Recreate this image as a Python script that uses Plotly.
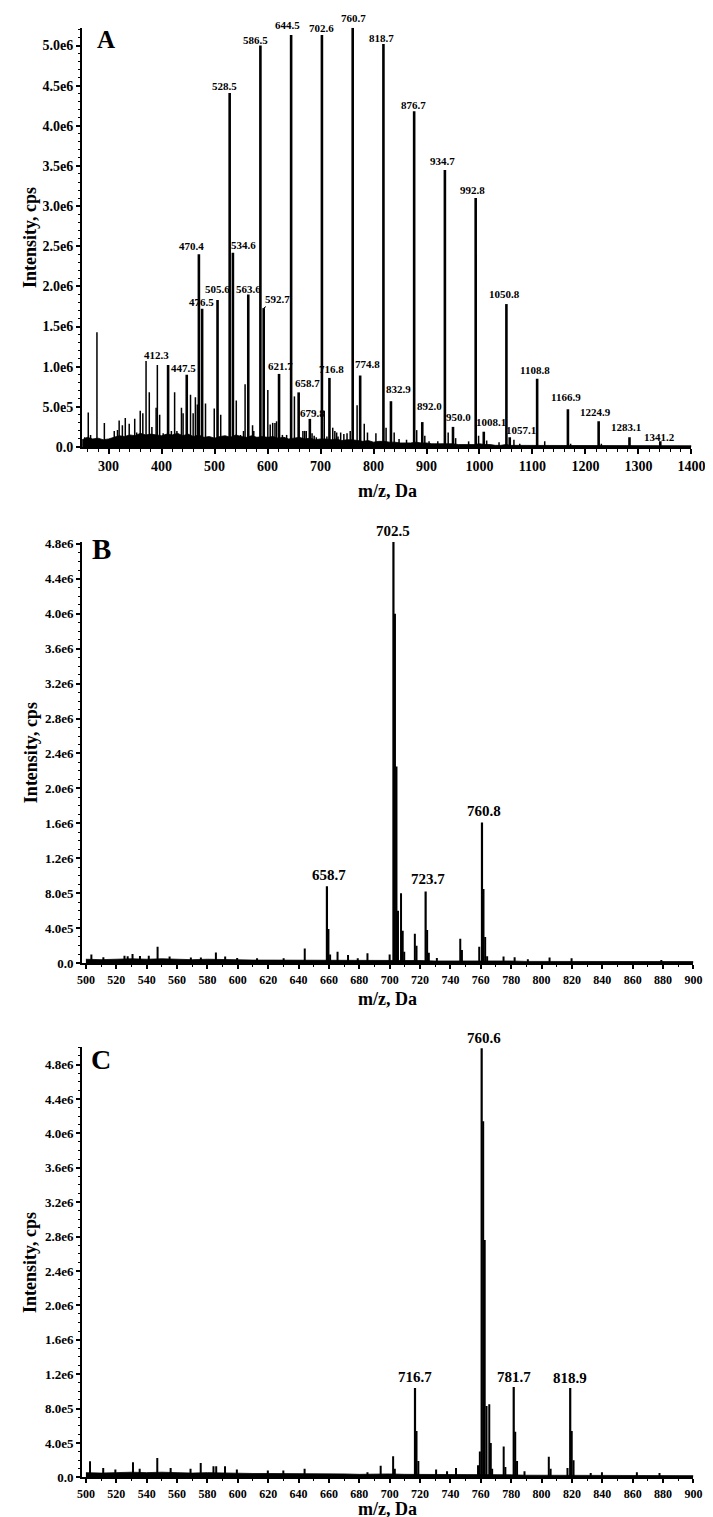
import plotly.graph_objects as go

# ---------------- DATA ----------------
# Panel A : labelled peaks (m/z, intensity in 1e6 cps)
A_major_mz = [412.3, 447.5, 470.4, 476.5, 505.6, 528.5, 534.6, 563.6, 586.5, 592.7,
              621.7, 644.5, 658.7, 679.8, 702.6, 716.8, 760.7, 774.8, 818.7, 832.9,
              876.7, 892.0, 934.7, 950.0, 992.8, 1008.1, 1050.8, 1057.1, 1108.8,
              1166.9, 1224.9, 1283.1, 1341.2]
A_major_int = [1.02, 0.90, 2.40, 1.72, 1.83, 4.41, 2.42, 1.90, 5.00, 1.73,
               0.91, 5.13, 0.68, 0.35, 5.13, 0.86, 5.22, 0.89, 5.02, 0.57,
               4.18, 0.31, 3.45, 0.25, 3.10, 0.19, 1.78, 0.12, 0.85,
               0.47, 0.32, 0.12, 0.07]
# Panel A : unlabelled peaks
A_minor_mz = [255, 261.6, 266, 270, 278, 292, 310.7, 316.8, 319.9, 326, 331.5, 338.9,
              349.3, 353, 359.7, 364.6, 370.7, 376.8, 381.7, 389.7, 392, 396.4, 403,
              418.5, 424.6, 428.9, 437.5, 440.6, 454.6, 459.6, 463.8, 467.5, 482.9,
              499.4, 511.6, 541, 549, 554.6, 557.6, 571.7, 574, 600.5, 605, 609.7,
              614, 617, 628, 632, 636, 650.7, 666.7, 670, 673, 684, 688, 692, 707,
              712, 723, 727, 730.4, 733, 738, 744, 750, 756, 769, 782.5, 788.6,
              804.5, 823.7, 839, 848.2, 862.3, 881.5, 896.8, 904.8, 921.3, 940.9,
              955, 979.5, 998.3, 1013.6, 1036.9, 1065, 1076, 1123.1, 1172, 1230]
A_minor_int = [0.12, 0.43, 0.15, 0.10, 1.43, 0.30, 0.20, 0.21, 0.33, 0.27, 0.36, 0.29,
               0.35, 0.18, 0.45, 0.42, 1.07, 0.68, 0.25, 0.49, 1.02, 0.40, 0.17,
               0.20, 0.68, 0.20, 0.49, 0.42, 0.65, 0.42, 0.62, 0.53, 0.54,
               0.48, 0.40, 0.58, 0.15, 0.20, 0.78, 0.27, 0.20, 0.71, 0.28, 0.30,
               0.30, 0.32, 0.15, 0.12, 0.15, 0.63, 0.20, 0.20, 0.20, 0.17, 0.14, 0.12, 0.45,
               0.13, 0.24, 0.20, 0.18, 0.13, 0.18, 0.16, 0.17, 0.20, 0.52, 0.29, 0.18,
               0.17, 0.24, 0.18, 0.10, 0.09, 0.21, 0.14, 0.07, 0.07, 0.18,
               0.11, 0.07, 0.14, 0.08, 0.06, 0.09, 0.04, 0.07, 0.04, 0.04]
# Panel A : baseline noise envelope every 10 Da (1e5 cps)
A_grass_mz = list(range(250, 1401, 10))
A_grass_int = [0.9, 1.2, 1.0, 1.1, 0.9, 1.0,
               1.2, 1.4, 1.3, 1.5, 1.4, 1.7, 1.5, 1.6, 1.5, 1.4,
               1.6, 1.5, 1.7, 1.4, 1.6, 1.3, 1.5, 1.2, 1.3, 1.1,
               1.3, 1.4, 1.2, 1.5, 1.3, 1.2, 1.4, 1.2, 1.3, 1.2,
               1.3, 1.1, 1.2, 1.0, 1.1, 1.2, 1.0, 1.1, 0.9, 1.0,
               1.0, 0.9, 1.0, 0.8, 0.9, 0.9, 0.8, 0.7, 0.8, 0.6,
               0.7, 0.7, 0.6, 0.6, 0.5, 0.5, 0.5, 0.6, 0.5, 0.5,
               0.4, 0.4, 0.4, 0.4, 0.4, 0.3, 0.3, 0.3, 0.3, 0.4,
               0.3, 0.3, 0.2, 0.2, 0.3, 0.2, 0.2, 0.2, 0.2, 0.2,
               0.2, 0.2, 0.2, 0.15, 0.15, 0.15, 0.15, 0.15, 0.15, 0.15,
               0.15, 0.15, 0.15, 0.15, 0.15, 0.15, 0.15, 0.15, 0.15, 0.15,
               0.15, 0.15, 0.15, 0.15, 0.15, 0.15, 0.15, 0.15, 0.15, 0.15]

# Panel B : labelled peaks (1e5 cps)
B_major_mz = [658.7, 702.5, 723.7, 760.8]
B_major_int = [8.8, 48.2, 8.2, 16.1]
B_minor_mz = [503.6, 511.5, 525.4, 527.5, 530.7, 535.6, 541.4, 547.2, 555.1, 569.1,
              575.7, 585.6, 591.7, 599.6, 612.7, 630.2, 644.1, 659.7, 660.8, 665.7,
              672.6, 679.0, 685.4, 700.0, 703.5, 704.5, 705.5, 707.5, 708.6, 709.6,
              716.6, 717.7, 724.7, 725.8, 731.1, 746.5, 747.6, 759.0, 761.8, 762.9,
              764.2, 775.0, 782.3, 791.0, 805.3, 819.8, 878.9]
B_minor_int = [1.0, 0.67, 0.86, 0.8, 1.05, 0.82, 0.86, 1.87, 0.75, 0.64,
               0.64, 1.23, 0.75, 0.6, 0.55, 0.55, 1.68, 3.9, 1.0, 1.3,
               0.93, 0.55, 1.12, 1.0, 40.0, 22.5, 6.0, 8.0, 3.7, 1.3,
               3.36, 2.0, 3.8, 1.2, 0.6, 2.8, 1.5, 1.87, 8.5, 3.0,
               0.8, 0.75, 0.67, 0.45, 0.64, 0.56, 0.37]
B_grass_mz = list(range(500, 901, 10))
B_grass_int = [0.45, 0.4, 0.45, 0.5, 0.45, 0.5, 0.45, 0.4, 0.45, 0.4,
               0.4, 0.35, 0.35, 0.35, 0.3, 0.35, 0.35, 0.3, 0.3, 0.3,
               0.35, 0.3, 0.3, 0.25, 0.25, 0.25, 0.3, 0.25, 0.25, 0.2,
               0.2, 0.2, 0.2, 0.2, 0.2, 0.18, 0.18, 0.18, 0.18, 0.18, 0.18]

# Panel C : labelled peaks (1e5 cps)
C_major_mz = [716.7, 760.6, 781.7, 818.9]
C_major_int = [10.4, 49.9, 10.5, 10.4]
C_minor_mz = [502.7, 511.4, 519.4, 531.0, 535.4, 547.0, 555.8, 568.9, 575.6, 584.0,
              585.8, 591.6, 599.4, 619.8, 630.0, 644.0, 685.4, 694.1, 702.3, 703.4,
              717.7, 718.9, 730.6, 737.8, 743.7, 758.2, 759.4, 761.6, 762.6, 763.8,
              765.6, 766.6, 767.5, 775.1, 776.2, 782.7, 783.9, 788.8, 804.8, 806.0,
              817.1, 819.9, 821.1, 832.4, 839.8, 862.8, 877.7]
C_minor_int = [1.86, 1.1, 0.9, 1.75, 1.0, 2.25, 1.1, 1.0, 1.67, 1.3,
               1.3, 1.3, 0.9, 0.8, 0.8, 1.0, 0.6, 1.36, 2.45, 1.0,
               5.4, 1.9, 0.9, 0.7, 1.1, 1.4, 3.0, 41.4, 27.6, 8.3,
               8.5, 4.0, 1.0, 3.6, 1.2, 5.3, 1.9, 0.7, 2.4, 1.0,
               1.1, 5.4, 2.0, 0.5, 0.6, 0.6, 0.5]
C_grass_mz = list(range(500, 901, 10))
C_grass_int = [0.55, 0.5, 0.55, 0.6, 0.55, 0.6, 0.55, 0.5, 0.55, 0.5,
               0.5, 0.45, 0.45, 0.45, 0.4, 0.45, 0.4, 0.4, 0.35, 0.4,
               0.4, 0.35, 0.35, 0.3, 0.3, 0.3, 0.35, 0.3, 0.3, 0.25,
               0.25, 0.25, 0.25, 0.2, 0.2, 0.2, 0.2, 0.2, 0.2, 0.2, 0.2]

# Axis ticks
A_xticks = list(range(300, 1401, 100))
A_yticks = [0, 5e5, 1e6, 1.5e6, 2e6, 2.5e6, 3e6, 3.5e6, 4e6, 4.5e6, 5e6]
A_yticktext = ["0.0", "5.0e5", "1.0e6", "1.5e6", "2.0e6", "2.5e6", "3.0e6",
               "3.5e6", "4.0e6", "4.5e6", "5.0e6"]
BC_xticks = list(range(500, 901, 20))
BC_yticks = [0, 4e5, 8e5, 1.2e6, 1.6e6, 2.0e6, 2.4e6, 2.8e6, 3.2e6, 3.6e6, 4.0e6, 4.4e6, 4.8e6]
BC_yticktext = ["0.0", "4.0e5", "8.0e5", "1.2e6", "1.6e6", "2.0e6", "2.4e6", "2.8e6",
                "3.2e6", "3.6e6", "4.0e6", "4.4e6", "4.8e6"]

# label offsets (pixels: dx, up) - styling only
A_label_off = {
    "412.3": (-12, 10), "447.5": (-3, 7), "470.4": (-7, 8), "476.5": (-1, 7),
    "505.6": (0, 11), "528.5": (-5, 7), "534.6": (11, 8), "563.6": (0, 5),
    "586.5": (-5, 6), "592.7": (14, 9), "621.7": (1, 8), "644.5": (-4, 10),
    "658.7": (9, 9), "679.8": (3, 6), "702.6": (0, 7), "716.8": (2, 9),
    "760.7": (1, 10), "774.8": (7, 12), "818.7": (-2, 6), "832.9": (8, 12),
    "876.7": (-1, 6), "892.0": (7, 16), "934.7": (-2, 9), "950.0": (6, 10),
    "992.8": (-3, 8), "1008.1": (7, 10), "1050.8": (-2, 10), "1057.1": (11, 7),
    "1108.8": (-2, 9), "1166.9": (-2, 12), "1224.9": (-3, 9), "1283.1": (-3, 10),
    "1341.2": (-1, 4),
}
B_label_off = {"658.7": (2, 11), "702.5": (0, 11), "723.7": (2, 13), "760.8": (2, 12)}
C_label_off = {"716.7": (0, 11), "760.6": (2, 10), "781.7": (0, 10), "818.9": (0, 10)}

# ---------------- FIGURE ----------------
W, H = 713, 1517
FONT = "Liberation Serif"


def sticks(mz, inten, scale):
    xs, ys = [], []
    for m, h in zip(mz, inten):
        xs += [m, m, None]
        ys += [0, h * scale, None]
    return xs, ys


fig = go.Figure()

panels = [
    ("x", "y", A_major_mz, A_major_int, A_minor_mz, A_minor_int, 1e6,
     A_grass_mz, A_grass_int, 2.6, 1.5),
    ("x2", "y2", B_major_mz, B_major_int, B_minor_mz, B_minor_int, 1e5,
     B_grass_mz, B_grass_int, 2.2, 2.0),
    ("x3", "y3", C_major_mz, C_major_int, C_minor_mz, C_minor_int, 1e5,
     C_grass_mz, C_grass_int, 2.2, 2.0),
]
for xa, ya, mj_mz, mj_i, mn_mz, mn_i, sc, g_mz, g_i, wmaj, wmin in panels:
    fig.add_trace(go.Scatter(x=g_mz, y=[v * 1e5 for v in g_i], mode="lines",
                             fill="tozeroy", fillcolor="black",
                             line=dict(color="black", width=0.8),
                             xaxis=xa, yaxis=ya, hoverinfo="skip", showlegend=False))
    xs, ys = sticks(mn_mz, mn_i, sc)
    fig.add_trace(go.Scatter(x=xs, y=ys, mode="lines",
                             line=dict(color="black", width=wmin),
                             xaxis=xa, yaxis=ya, showlegend=False))
    xs, ys = sticks(mj_mz, mj_i, sc)
    fig.add_trace(go.Scatter(x=xs, y=ys, mode="lines",
                             line=dict(color="black", width=wmaj),
                             xaxis=xa, yaxis=ya, showlegend=False))


def py(p):
    return (H - p) / H


def px(p):
    return p / W


axis_common = dict(showgrid=False, zeroline=False, showline=True, linecolor="black",
                   linewidth=2, ticks="outside", tickcolor="black", tickwidth=1.5,
                   color="black")

fig.update_layout(
    width=W, height=H, margin=dict(l=0, r=0, t=0, b=0),
    paper_bgcolor="white", plot_bgcolor="white", showlegend=False,
    xaxis=dict(domain=[px(71), px(697)], range=[250, 1400], anchor="y",
               tickvals=A_xticks, ticklen=5,
               tickfont=dict(family=FONT, size=14, weight="bold", color="black"),
               minor=dict(dtick=20, tick0=0, ticklen=3, ticks="outside",
                          tickcolor="black", tickwidth=1),
               **axis_common),
    yaxis=dict(domain=[py(437), py(14)], range=[0, 5.22e6], anchor="x",
               tickvals=A_yticks, ticktext=A_yticktext, ticklen=4,
               tickfont=dict(family=FONT, size=14, weight="bold", color="black"),
               minor=dict(dtick=1e5, tick0=0, ticklen=2, ticks="outside",
                          tickcolor="black", tickwidth=1),
               **axis_common),
    xaxis2=dict(domain=[px(71), px(699)], range=[497.5, 900], anchor="y2",
                tickvals=BC_xticks, ticklen=4,
                tickfont=dict(family=FONT, size=12, weight="bold", color="black"),
                minor=dict(dtick=10, tick0=0, ticklen=2, ticks="outside",
                           tickcolor="black", tickwidth=1),
                **axis_common),
    yaxis2=dict(domain=[py(958), py(533)], range=[0, 4.82e6], anchor="x2",
                tickvals=BC_yticks, ticktext=BC_yticktext, ticklen=4,
                tickfont=dict(family=FONT, size=13, weight="bold", color="black"),
                minor=dict(dtick=1e5, tick0=0, ticklen=2, ticks="outside",
                           tickcolor="black", tickwidth=1),
                **axis_common),
    xaxis3=dict(domain=[px(71), px(699)], range=[497.5, 900], anchor="y3",
                tickvals=BC_xticks, ticklen=4,
                tickfont=dict(family=FONT, size=12, weight="bold", color="black"),
                minor=dict(dtick=10, tick0=0, ticklen=2, ticks="outside",
                           tickcolor="black", tickwidth=1),
                **axis_common),
    yaxis3=dict(domain=[py(1477), py(1043)], range=[0, 5.0e6], anchor="x3",
                tickvals=BC_yticks, ticktext=BC_yticktext, ticklen=4,
                tickfont=dict(family=FONT, size=13, weight="bold", color="black"),
                minor=dict(dtick=1e5, tick0=0, ticklen=2, ticks="outside",
                           tickcolor="black", tickwidth=1),
                **axis_common),
)

ann = []
label_sets = [
    ("x", "y", A_major_mz, A_major_int, 1e6, A_label_off, 11),
    ("x2", "y2", B_major_mz, B_major_int, 1e5, B_label_off, 15),
    ("x3", "y3", C_major_mz, C_major_int, 1e5, C_label_off, 15),
]
for xa, ya, mzs, ints, sc, offs, fs in label_sets:
    for m, h in zip(mzs, ints):
        t = f"{m:.1f}"
        dx, up = offs.get(t, (0, 8))
        if t == "592.7":
            ann.append(dict(x=m, y=h * sc, xref=xa, yref=ya, text=f"<b>{t}</b>",
                            showarrow=True, arrowhead=0, arrowwidth=1, arrowcolor="black",
                            ax=dx, ay=-up, standoff=0,
                            font=dict(family=FONT, size=fs, color="black")))
        else:
            ann.append(dict(x=m, y=h * sc, xref=xa, yref=ya, text=f"<b>{t}</b>",
                            showarrow=False, xshift=dx, yshift=up, yanchor="middle",
                            xanchor="center",
                            font=dict(family=FONT, size=fs, color="black")))

# panel letters
for letter, xp, ypix, fs in [("A", 96, 26, 25), ("B", 91, 540, 29), ("C", 90, 1055, 28)]:
    ann.append(dict(x=px(xp), y=py(ypix), xref="paper", yref="paper",
                    text=f"<b>{letter}</b>", showarrow=False, xanchor="center",
                    yanchor="middle", font=dict(family=FONT, size=fs, color="black")))

# axis titles
for ymid in [(14 + 437) / 2, (533 + 958) / 2, (1043 + 1477) / 2]:
    ann.append(dict(x=px(18), y=py(ymid), xref="paper", yref="paper",
                    text="<b>Intensity, cps</b>", textangle=-90, showarrow=False,
                    xanchor="center", yanchor="middle",
                    font=dict(family=FONT, size=18, color="black")))
for ypix in [481, 994, 1509]:
    ann.append(dict(x=px(385), y=py(ypix), xref="paper", yref="paper",
                    text="<b>m/z, Da</b>", showarrow=False, xanchor="center",
                    yanchor="middle", font=dict(family=FONT, size=18, color="black")))

fig.update_layout(annotations=ann)
fig.write_html("out.html")
